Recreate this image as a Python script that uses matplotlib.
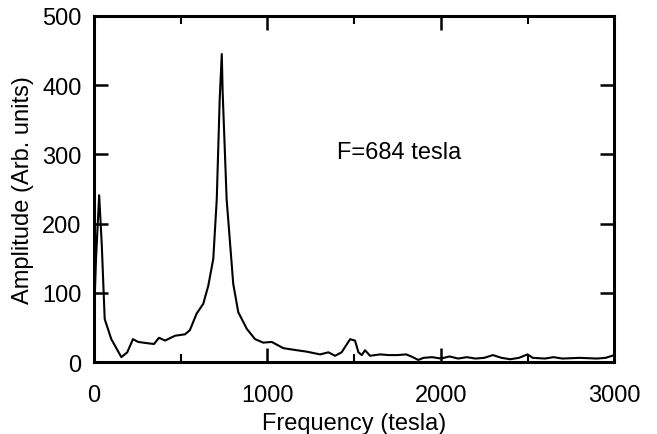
import matplotlib
matplotlib.use("Agg")
import matplotlib.pyplot as plt
from matplotlib.ticker import MultipleLocator

# frequency (tesla) and amplitude
freq = [0, 12, 30, 45, 62, 100, 158, 192, 225, 255, 313, 346, 375, 410, 468,
        525, 553, 592, 630, 659, 688, 708, 725, 737, 742, 765, 803, 832, 881,
        929, 976, 1025, 1092, 1170, 1226, 1304, 1352, 1390, 1428, 1477, 1505,
        1525, 1544, 1563, 1592, 1650, 1700, 1750, 1800, 1830, 1870, 1900, 1950,
        2000, 2050, 2100, 2150, 2200, 2250, 2300, 2350, 2400, 2450, 2500, 2530,
        2600, 2650, 2700, 2800, 2900, 2950, 3000]
amp = [60, 150, 241, 170, 62, 33, 7, 14, 33, 29, 27, 26, 35, 31, 38,
       40, 46, 70, 84, 110, 149, 235, 380, 445, 390, 235, 113, 72, 48,
       33, 28, 29, 20, 17, 15, 11, 14, 9, 14, 33, 31,
       14, 10, 17, 9, 11, 10, 10, 11, 8, 3, 6, 7,
       5, 8, 5, 7, 5, 6, 10, 6, 4, 6, 11, 6,
       5, 7, 5, 6, 5, 6, 10]

plt.rcParams['font.family'] = ['Liberation Sans', 'DejaVu Sans']

fig = plt.figure(figsize=(6.57, 4.35), dpi=100)
ax = fig.add_axes([0.143, 0.1655, 0.792, 0.7955])
ax.plot(freq, amp, color='black', linewidth=1.5)

ax.set_xlim(0, 3000)
ax.set_ylim(0, 500)
ax.xaxis.set_major_locator(MultipleLocator(1000))
ax.xaxis.set_minor_locator(MultipleLocator(500))
ax.yaxis.set_major_locator(MultipleLocator(100))

ax.tick_params(axis='both', which='major', direction='in', top=True, right=True,
               length=10, width=1.8, labelsize=17)
ax.tick_params(axis='x', which='minor', direction='in', top=True, length=6, width=1.5)
ax.tick_params(axis='x', which='major', pad=16)
ax.tick_params(axis='y', which='major', pad=9)
for s in ax.spines.values():
    s.set_linewidth(2.2)

ax.text(1400, 303, "F=684 tesla", fontsize=17, va='center', ha='left')
ax.set_xlabel("Frequency (tesla)", fontsize=17, labelpad=4)
ax.set_ylabel("Amplitude (Arb. units)", fontsize=17, labelpad=6)

plt.savefig("out.png", dpi=100)
